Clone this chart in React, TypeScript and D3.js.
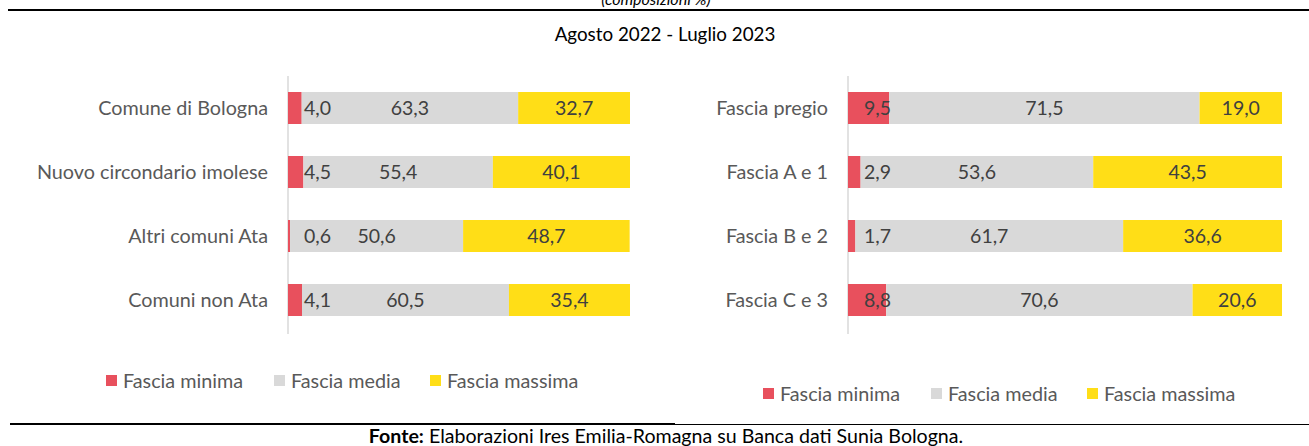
import * as React from "react";
import { scaleBand, scaleLinear, stack } from "d3";

const W = 1309;
const H = 446;

const series = ["Fascia minima", "Fascia media", "Fascia massima"];
const colors = ["#E8505D", "#D9D9D9", "#FFDE17"];

const areaCats = ["Comune di Bologna", "Nuovo circondario imolese", "Altri comuni Ata", "Comuni non Ata"];
const areaMin = [4.0, 4.5, 0.6, 4.1];
const areaMed = [63.3, 55.4, 50.6, 60.5];
const areaMax = [32.7, 40.1, 48.7, 35.4];

const zoneCats = ["Fascia pregio", "Fascia A e 1", "Fascia B e 2", "Fascia C e 3"];
const zoneMin = [9.5, 2.9, 1.7, 8.8];
const zoneMed = [71.5, 53.6, 61.7, 70.6];
const zoneMax = [19.0, 43.5, 36.6, 20.6];

const FONT = "Lato, 'Open Sans', sans-serif";
const fmt = (v: number) => v.toFixed(1).replace(".", ",");

function Panel({ cats, mins, meds, maxs, x0, x1, legendY, legendX }: any) {
  const rows = cats.map((c: string, i: number) => ({ cat: c, a: mins[i], b: meds[i], c: maxs[i] }));
  const stacked = stack<any>().keys(["a", "b", "c"])(rows);
  const x = scaleLinear().domain([0, 100]).range([x0, x1]);
  const y = scaleBand().domain(cats).range([76, 332]).paddingInner(0.5).paddingOuter(0.25);
  const legendOffsets = [0, 168, 324];
  const mid = (c: string) => (y(c) as number) + y.bandwidth() / 2;

  return (
    <g>
      <line x1={x0} x2={x0} y1={76} y2={334} stroke="#D9D9D9" strokeWidth={1.5} />
      {cats.map((c: string) => (
        <text key={c} x={x0 - 20} y={mid(c)} dy="0.35em"
          textAnchor="end" fontSize={19.8} fill="#595959" fontFamily={FONT}>{c}</text>
      ))}
      {/* bars first, then all the labels on top */}
      {stacked.map((s, si) =>
        s.map((d: any, i: number) => (
          <rect key={si + "-" + i} x={x(d[0])} y={y(cats[i])} width={x(d[1]) - x(d[0])}
            height={y.bandwidth()} fill={colors[si]} />
        ))
      )}
      {stacked.map((s, si) =>
        s.map((d: any, i: number) => {
          // the small "minima" labels sit at a fixed spot next to the axis
          const cx = si === 0 ? x0 + 29.5 : (x(d[0]) + x(d[1])) / 2;
          return (
            <text key={"t" + si + "-" + i} x={cx} y={mid(cats[i])} dy="0.35em"
              textAnchor="middle" fontSize={19.5} fill="#404040" fontFamily={FONT}>
              {fmt(d[1] - d[0])}
            </text>
          );
        })
      )}
      {series.map((name, i) => (
        <g key={name} transform={`translate(${legendX + legendOffsets[i]},${legendY})`}>
          <rect x={0} y={-6} width={11} height={11} fill={colors[i]} />
          <text x={17} y={0} dy="0.35em" fontSize={19.8} fill="#595959" fontFamily={FONT}>{name}</text>
        </g>
      ))}
    </g>
  );
}

export default function App() {
  return (
    <svg width={W} height={H} style={{ position: "absolute", left: 0, top: 0, background: "#fff" }}>
      <text x={656} y={5} textAnchor="middle" fontSize={16} fontStyle="italic" fill="#000" fontFamily={FONT}>
        (composizioni %)
      </text>
      <line x1={8} x2={W} y1={10} y2={10} stroke="#000" strokeWidth={2.2} />
      <text x={665} y={41} textAnchor="middle" fontSize={18.8} fill="#000" fontFamily={FONT}>
        Agosto 2022 - Luglio 2023
      </text>
      <Panel cats={areaCats} mins={areaMin} meds={areaMed} maxs={areaMax} x0={288} x1={630} legendY={381} legendX={106} />
      <Panel cats={zoneCats} mins={zoneMin} meds={zoneMed} maxs={zoneMax} x0={848} x1={1282} legendY={394} legendX={763} />
      <line x1={10} x2={675} y1={424} y2={424} stroke="#000" strokeWidth={2.2} />
      <line x1={675} x2={W} y1={424.5} y2={424.5} stroke="#000" strokeWidth={1.2} />
      <text x={666} y={443} textAnchor="middle" fontSize={19.6} fill="#000" fontFamily={FONT}>
        <tspan fontWeight="bold">Fonte:</tspan> Elaborazioni Ires Emilia-Romagna su Banca dati Sunia Bologna.
      </text>
    </svg>
  );
}
